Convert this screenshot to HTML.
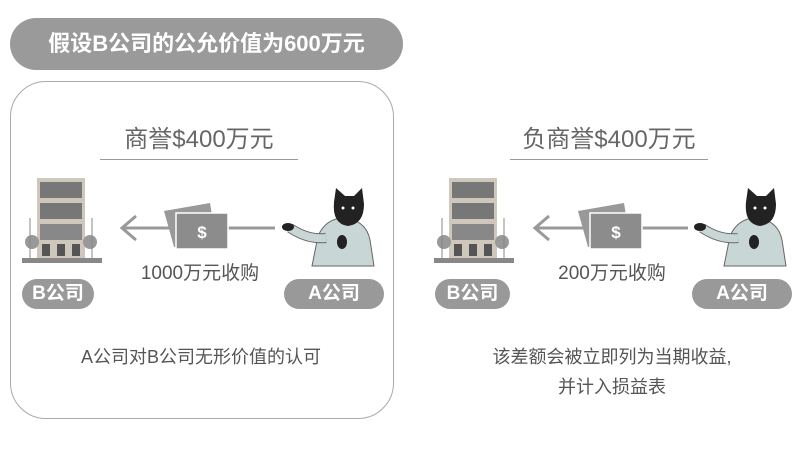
<!DOCTYPE html>
<html><head><meta charset="utf-8"><style>
body{margin:0;width:800px;height:449px;background:#fff;position:relative;overflow:hidden;font-family:"Liberation Sans","Noto Sans CJK SC",sans-serif;color:#555}
.a{position:absolute}
.pill{position:absolute;background:#999;color:#fff;border-radius:16px;text-align:center;font-weight:bold;font-size:19px;line-height:30px}
.t{position:absolute;text-align:center;white-space:nowrap}
</style></head><body>
<div class="a" style="left:10px;top:18px;width:393px;height:52px;background:#9a9a9a;border-radius:26px;color:#fff;font-size:22px;font-weight:bold;text-align:center;line-height:52px">假设B公司的公允价值为600万元</div>
<div class="a" style="left:10px;top:81px;width:382px;height:336px;border:1.5px solid #aaa;border-radius:36px"></div>

<div class="t" style="left:100px;width:198px;top:119px;font-size:24px;color:#666">商誉$400万元</div>
<div class="a" style="left:100px;top:159px;width:198px;height:1px;background:#999"></div>
<div class="t" style="left:510px;width:198px;top:119px;font-size:24px;color:#666">负商誉$400万元</div>
<div class="a" style="left:510px;top:159px;width:198px;height:1px;background:#999"></div>

<svg class="a" style="left:0;top:0" width="800" height="449">
<defs>
<g id="bld">
<rect x="15" y="0" width="48" height="80" fill="#cfc6bc"/>
<rect x="18" y="4" width="42" height="16" fill="#777"/>
<rect x="18" y="25" width="42" height="16" fill="#777"/>
<rect x="18" y="46" width="42" height="16" fill="#888"/>
<rect x="20" y="66" width="8" height="12" fill="#555"/><rect x="35" y="66" width="8" height="12" fill="#555"/><rect x="50" y="66" width="8" height="12" fill="#555"/>
<circle cx="10" cy="64" r="7" fill="#999"/><circle cx="68" cy="64" r="7" fill="#999"/>
<line x1="8" y1="40" x2="8" y2="80" stroke="#888"/><line x1="70" y1="40" x2="70" y2="80" stroke="#888"/>
<rect x="0" y="80" width="80" height="5" fill="#888"/>
</g>
<g id="cash">
<polygon points="0,8 46,0 52,36 10,44" fill="#999"/>
<rect x="12" y="10" width="52" height="36" fill="#8c8c8c" stroke="#fff" stroke-width="1.5"/>
<text x="38" y="35" font-size="17" font-weight="bold" fill="#fff" text-anchor="middle" font-family="Liberation Sans">$</text>
</g>
<g id="cat">
<path d="M30,78 L36,48 Q44,30 62,30 Q84,32 88,52 L92,78 Z" fill="#c9d6d6" stroke="#666"/>
<path d="M52,14 L54,0 L63,8 L72,8 L80,0 L82,16 Q82,36 66,38 Q50,36 52,14Z" fill="#222"/>
<circle cx="61" cy="20" r="1.5" fill="#fff"/><circle cx="71" cy="20" r="1.5" fill="#fff"/>
<path d="M8,40 Q26,52 44,50" stroke="#666" fill="none" stroke-width="10"/>
<path d="M8,40 Q26,52 44,50" stroke="#c9d6d6" fill="none" stroke-width="8"/>
<ellipse cx="6" cy="39" rx="6" ry="4" fill="#222"/>
<ellipse cx="60" cy="54" rx="5" ry="7" fill="#222"/>
</g>
</defs>
<use href="#bld" x="22" y="178"/>
<line x1="122" y1="228" x2="275" y2="228" stroke="#999" stroke-width="3"/>
<polyline points="136,216 122,228 136,240" fill="none" stroke="#999" stroke-width="3"/>
<use href="#cash" x="164" y="203"/>
<use href="#cat" x="282" y="188"/>

<use href="#bld" x="434" y="178"/>
<line x1="535" y1="228" x2="688" y2="228" stroke="#999" stroke-width="3"/>
<polyline points="549,216 535,228 549,240" fill="none" stroke="#999" stroke-width="3"/>
<use href="#cash" x="578" y="203"/>
<use href="#cat" x="694" y="188"/>
</svg>

<div class="t" style="left:100px;width:200px;top:258px;font-size:19px">1000万元收购</div>
<div class="t" style="left:512px;width:200px;top:258px;font-size:19px">200万元收购</div>
<div class="pill" style="left:22px;top:279px;width:72px">B公司</div>
<div class="pill" style="left:284px;top:279px;width:100px">A公司</div>
<div class="pill" style="left:435px;top:279px;width:75px">B公司</div>
<div class="pill" style="left:692px;top:279px;width:100px">A公司</div>

<div class="t" style="left:10px;width:382px;top:343px;font-size:18px">A公司对B公司无形价值的认可</div>
<div class="t" style="left:452px;width:320px;top:342px;font-size:18px;line-height:30px">该差额会被立即列为当期收益,<br>并计入损益表</div>
</body></html>
